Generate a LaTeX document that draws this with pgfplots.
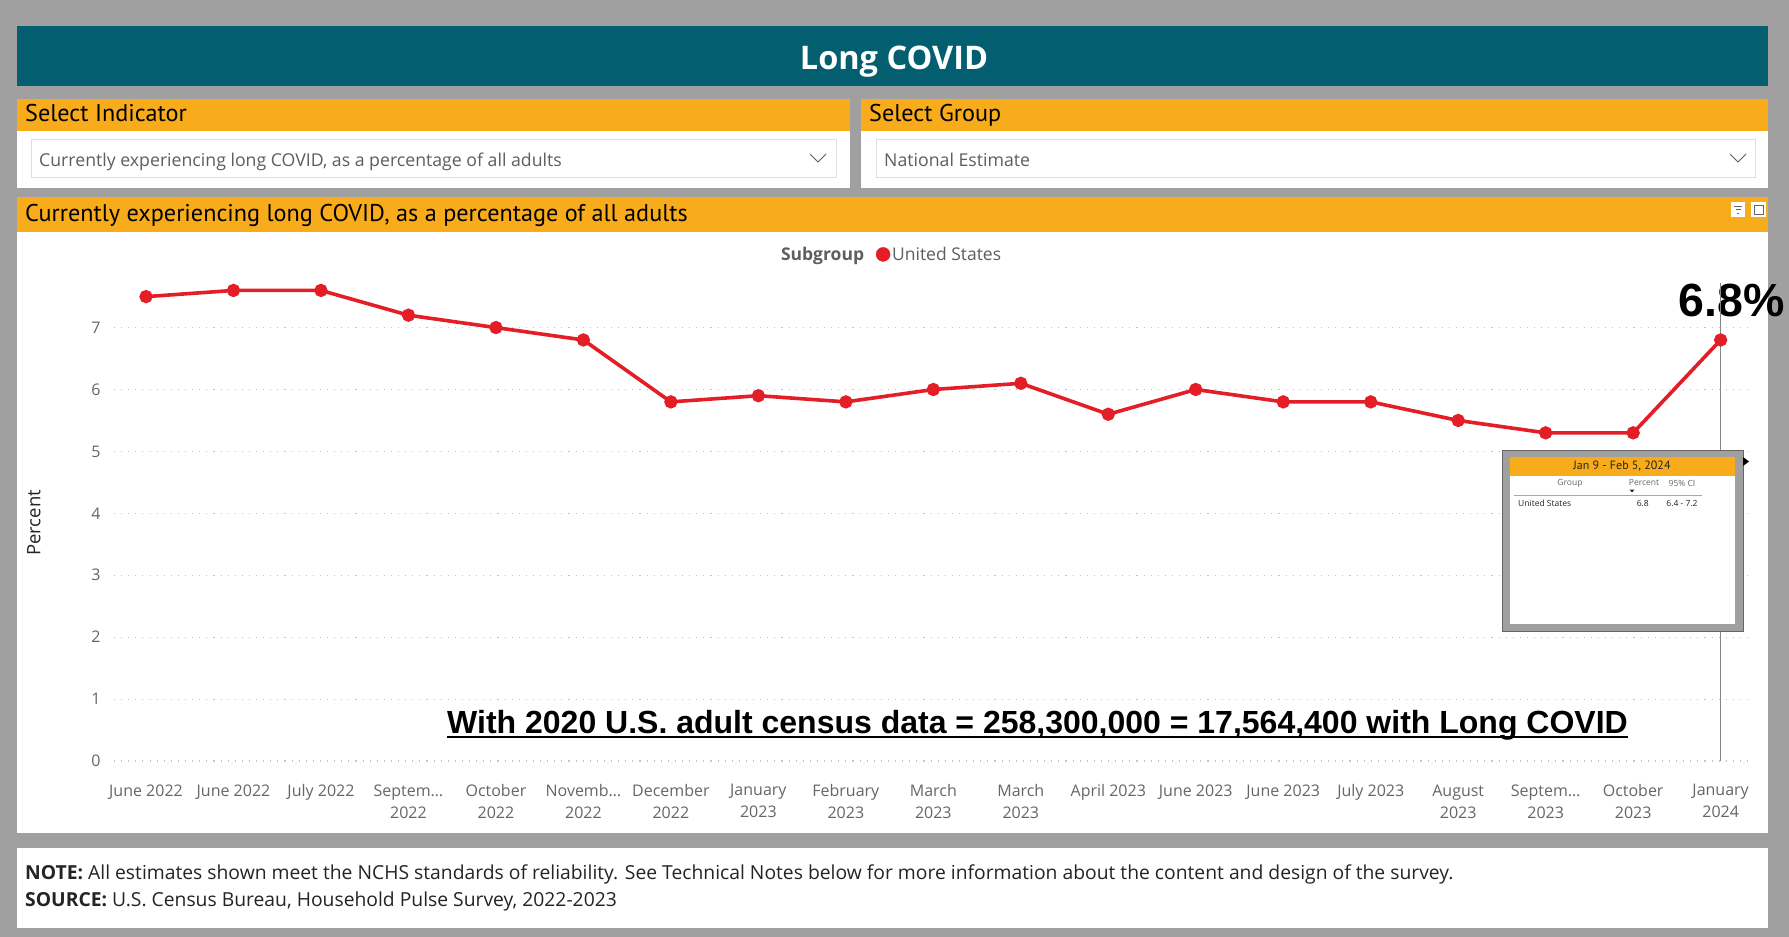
\documentclass[border=0pt]{standalone}
\usepackage{fontspec}
\usepackage{pgfplots}
\usepackage{pgfplotstable}
\pgfplotsset{compat=1.18}

\setmainfont{Open Sans}
\newfontfamily\dinfont{PT Sans}
\newfontfamily\arialfont{Liberation Sans}

\definecolor{frame}{HTML}{A0A0A0}
\definecolor{pbiTeal}{HTML}{035E6F}
\definecolor{pbiOrange}{HTML}{F9AC1B}
\definecolor{pbiRed}{HTML}{E31E26}
\definecolor{tickgrey}{HTML}{666666}
\definecolor{legendgrey}{HTML}{605E5C}
\definecolor{darktext}{HTML}{252423}
\definecolor{gridgrey}{HTML}{C4C4C4}
\definecolor{boxline}{HTML}{DEDEDE}
\definecolor{hoverline}{HTML}{858585}
\definecolor{tipline}{HTML}{7FB2E5}

% Long COVID prevalence, adults, Household Pulse Survey periods
\pgfplotstableread{
idx pct
0  7.5
1  7.6
2  7.6
3  7.2
4  7.0
5  6.8
6  5.8
7  5.9
8  5.8
9  6.0
10 6.1
11 5.6
12 6.0
13 5.8
14 5.8
15 5.5
16 5.3
17 5.3
18 6.8
}\longcovid

\begin{document}
\begin{tikzpicture}[x=1pt,y=1pt]
\path[use as bounding box] (0,0) rectangle (1789,-937);
\fill[frame] (0,0) rectangle (1789,-937);

% report title
\fill[pbiTeal] (17,-26) rectangle (1768,-86);
\node[anchor=base, inner sep=0, white, font=\bfseries\fontsize{32.5}{36}\selectfont] at (894,-69) {Long COVID};

% indicator slicer
\fill[pbiOrange] (17,-99) rectangle (850,-131);
\fill[white] (17,-131) rectangle (850,-188);
\node[anchor=base west, inner sep=0, text=black, font=\dinfont\fontsize{24.2}{26}\selectfont] at (25,-121) {Select Indicator};
\draw[boxline, fill=white, line width=1pt] (31,-139) rectangle (836,-177);
\node[anchor=base west, inner sep=0, text=legendgrey, font=\fontsize{17.7}{20}\selectfont] at (39,-166.5) {Currently experiencing long COVID, as a percentage of all adults};
\draw[legendgrey, line width=1pt] (810,-154) -- (818,-162) -- (826,-154);

% group slicer
\fill[pbiOrange] (861,-99) rectangle (1768,-131);
\fill[white] (861,-131) rectangle (1768,-188);
\node[anchor=base west, inner sep=0, text=black, font=\dinfont\fontsize{24.2}{26}\selectfont] at (869,-121) {Select Group};
\draw[boxline, fill=white, line width=1pt] (876,-139) rectangle (1755,-177);
\node[anchor=base west, inner sep=0, text=legendgrey, font=\fontsize{17.7}{20}\selectfont] at (884,-166.5) {National Estimate};
\draw[legendgrey, line width=1pt] (1730,-154) -- (1738,-162) -- (1746,-154);

% chart panel
\fill[pbiOrange] (17,-197) rectangle (1768,-232);
\fill[white] (17,-232) rectangle (1768,-833);
\node[anchor=base west, inner sep=0, text=black, font=\dinfont\fontsize{24.2}{26}\selectfont] at (25,-221) {Currently experiencing long COVID, as a percentage of all adults};
\fill[white] (1731,-202) rectangle (1745,-217);
\fill[white] (1751,-202) rectangle (1766,-217);
\draw[tickgrey, line width=0.6pt] (1734,-206) -- (1742,-206) (1735.5,-209.5) -- (1740.5,-209.5) (1737,-213) -- (1739,-213);
\draw[tickgrey, line width=0.6pt] (1754,-205) rectangle (1763,-214);

% notes panel
\fill[white] (17,-848) rectangle (1768,-928);
\node[anchor=base west, inner sep=0, text=darktext, font=\fontsize{19.3}{22}\selectfont] at (25,-879) {\textbf{NOTE:} All estimates shown meet the NCHS standards of reliability. See Technical Notes below for more information about the content and design of the survey.};
\node[anchor=base west, inner sep=0, text=darktext, font=\fontsize{19.3}{22}\selectfont] at (25,-906) {\textbf{SOURCE:} U.S. Census Bureau, Household Pulse Survey, 2022-2023};

\begin{axis}[
  at={(114pt,-761pt)}, anchor=south west,
  scale only axis, width=1637pt, height=478pt,
  xmin=-0.366, xmax=18.347, ymin=0, ymax=7.72,
  clip=false,
  axis line style={draw=none},
  major tick length=0pt,
  ytick={0,1,...,7},
  ymajorgrids,
  grid style={gridgrey, line width=1.1pt, dash pattern=on 1.1pt off 6pt},
  xtick={0,1,...,18},
  xticklabels={{June 2022},{June 2022},{July 2022},{Septem…\\2022},{October\\2022},{Novemb…\\2022},{December\\2022},{January\\2023},{February\\2023},{March\\2023},{March\\2023},{April 2023},{June 2023},{June 2023},{July 2023},{August\\2023},{Septem…\\2023},{October\\2023},{January\\2024}},
  xticklabel style={font=\fontsize{16}{22}\selectfont, text=tickgrey, align=center, anchor=north, yshift=-20pt},
  yticklabel style={font=\fontsize{16}{20}\selectfont, text=tickgrey, xshift=-10pt},
  /pgf/number format/assume math mode=true,
  ylabel={Percent},
  every axis y label/.style={at={(axis description cs:-0.0489,0.498)}, rotate=90, anchor=center, font=\fontsize{18.5}{20}\selectfont, text=darktext},
  legend columns=2,
  legend cell align=left,
  legend style={at={(axis description cs:0.4747,1)}, anchor=south, yshift=19pt, draw=none, fill=none, inner sep=0pt,
    font=\fontsize{17.5}{20}\selectfont, text=legendgrey,
    /tikz/every even column/.append style={column sep=10pt}},
]
\addlegendimage{empty legend}
\addlegendentry{\textbf{Subgroup}}
\addlegendimage{only marks, mark=*, mark size=7pt, pbiRed}
\addlegendentry{United States}

\addplot[pbiRed, line width=3.6pt, mark=*, mark size=4.8pt, mark options={solid}, forget plot]
  table[x=idx, y=pct] {\longcovid};

\node[anchor=base, inner sep=0, text=black, font=\arialfont\bfseries\fontsize{46.5}{50}\selectfont, xshift=11pt, yshift=23pt] at (axis cs:18,6.8) {6.8\%};
\draw[hoverline, line width=1.5pt] (axis cs:18,0) -- (axis cs:18,7.72);
\end{axis}

% hover tooltip for the latest period
\filldraw[fill=frame, draw=black!60, line width=1pt] (1502,-450) rectangle (1743,-631);
\fill[white] (1510,-457) rectangle (1735,-624);
\fill[pbiOrange] (1510,-457) rectangle (1735,-476);
\fill[black] (1743,-457) -- (1749,-461.5) -- (1743,-466) -- cycle;
\node[inner sep=0, text=darktext, font=\dinfont\fontsize{12}{14}\selectfont] at (1622,-466.5) {Jan 9 - Feb 5, 2024};
\node[inner sep=0, text=tickgrey, font=\fontsize{8.5}{10}\selectfont] at (1570,-483) {Group};
\node[inner sep=0, text=tickgrey, font=\fontsize{8.5}{10}\selectfont] at (1644,-483) {Percent};
\node[inner sep=0, text=tickgrey, font=\fontsize{8.5}{10}\selectfont] at (1682,-483) {95\% CI};
\fill[darktext] (1629.5,-489.5) -- (1634.5,-489.5) -- (1632,-492.5) -- cycle;
\draw[tipline, line width=1pt] (1514,-495) -- (1702,-495);
\node[anchor=west, inner sep=0, text=darktext, font=\fontsize{8.5}{10}\selectfont] at (1518,-503) {United States};
\node[anchor=east, inner sep=0, text=darktext, font=\fontsize{8.5}{10}\selectfont] at (1649,-503) {6.8};
\node[inner sep=0, text=darktext, font=\fontsize{8.5}{10}\selectfont] at (1682,-503) {6.4 - 7.2};

% population estimate annotation
\node[anchor=base west, inner sep=0, text=black, font=\arialfont\bfseries\fontsize{32}{36}\selectfont] (est) at (447,-733) {With 2020 U.S. adult census data = 258,300,000 = 17,564,400 with Long COVID};
\draw[black, line width=2.4pt] ([yshift=-4pt]est.base west) -- ([yshift=-4pt]est.base east);
\end{tikzpicture}
\end{document}
